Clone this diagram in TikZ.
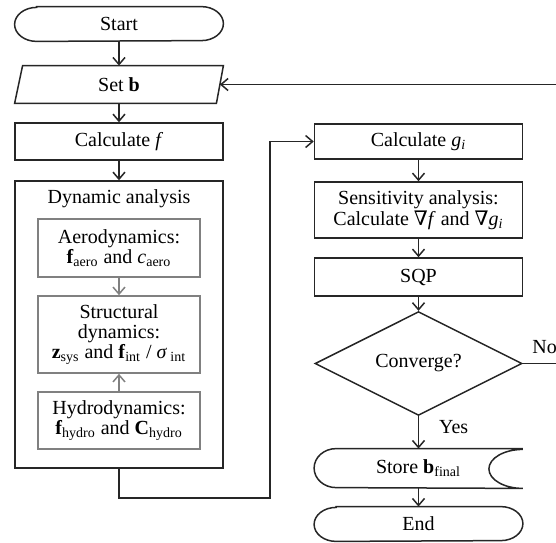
\documentclass[tikz,border=0pt]{standalone}
\usepackage{fontspec}
\setmainfont{Liberation Serif}
\newfontfamily\nablafont{DejaVu Serif}
\usetikzlibrary{arrows.meta,shapes.geometric}

\begin{document}
\begin{tikzpicture}
[x=0.5pt,y=-0.5pt,
  font=\fontsize{10}{10.2}\selectfont,
  boxDecorate/.style={shape=rectangle,draw=black!85,line width=0.75pt,minimum width=104pt,align=center,inner sep=2pt},%
  termDecorate/.style={shape=rectangle,minimum width=104pt,minimum height=17pt,inner sep=0pt},%
  innerDecorate/.style={shape=rectangle,draw=black!50,line width=0.8pt,minimum width=81pt,align=center,inner sep=2pt},%
  decisionDecorate/.style={shape=diamond,draw=black!85,line width=0.75pt,minimum width=103.5pt,minimum height=48.5pt,inner sep=0pt},%
  outlineDecorate/.style={draw=black!85,line width=0.75pt},%
  lineDecorate/.style={-{Straight Barb[length=3.5pt,width=6pt]},draw=black!85,line width=0.75pt},%
  grayLineDecorate/.style={lineDecorate,draw=black!50}]
\clip (0,0) rectangle (556,542);
%% left column
\node (start) at (119,24) [termDecorate] {Start};
\node (setb) at (119,84.5) [termDecorate,minimum height=18.5pt] {Set \textbf{b}};
\node (calcf) at (119,141.5) [boxDecorate,minimum height=18.5pt] {Calculate \textit{f}};
\node (dyn) at (119,324.5) [boxDecorate,minimum height=143.5pt] {};
\node (dyntitle) at (119,199) {Dynamic analysis};
\node (aero) at (119,248) [innerDecorate,minimum height=29pt]
  {Aerodynamics:\\ \textbf{f}\textsubscript{aero} and \textit{c}\textsubscript{aero}};
\node (struct) at (119,334.5) [innerDecorate,minimum height=38.5pt]
  {Structural\\ dynamics:\\ \textbf{z}\textsubscript{sys} and \textbf{f}\textsubscript{int} / \textit{σ}\,\textsubscript{int}};
\node (hydro) at (119,420.5) [innerDecorate,minimum height=28.5pt]
  {Hydrodynamics:\\ \textbf{f}\textsubscript{hydro} and \textbf{C}\textsubscript{hydro}};
%% right column
\node (calcg) at (418.5,141.5) [boxDecorate,minimum height=17.5pt] {Calculate \textit{g\textsubscript{i}}};
\node (sens) at (418.5,210) [boxDecorate,minimum height=28pt]
  {Sensitivity analysis:\\ Calculate {\nablafont\itshape ∇}\textit{f} and {\nablafont\itshape ∇}\textit{g\textsubscript{i}}};
\node (sqp) at (418.5,277) [boxDecorate,minimum height=19pt] {SQP};
\node (conv) at (418.5,363.5) [decisionDecorate] {Converge?};
\node (store) at (418.5,468.5) [termDecorate,minimum height=19.5pt] {Store \textbf{b}\textsubscript{final}};
\node (end) at (418.5,524) [termDecorate] {End};
\node (yes) at (432,433) [anchor=base west] {Yes};
\node (no) at (530,353) [anchor=base west,inner sep=1pt] {No};
%% outlines
\foreach \nodename in {start, end} {
  \draw[outlineDecorate] ([xshift=11pt]\nodename.north west) -- ([xshift=-11pt]\nodename.north east)
    arc[start angle=90,end angle=-90,x radius=11pt,y radius=8.5pt]
    -- ([xshift=11pt]\nodename.south west)
    arc[start angle=270,end angle=90,x radius=11pt,y radius=8.5pt] -- cycle;
}
\draw[outlineDecorate] ([xshift=4pt]setb.north west) -- (setb.north east)
  -- ([xshift=-3.5pt]setb.south east) -- (setb.south west) -- cycle;
\draw[outlineDecorate] (store.north east) -- ([xshift=11pt]store.north west)
  arc[start angle=90,end angle=270,x radius=11pt,y radius=9.75pt] -- (store.south east)
  arc[start angle=-90,end angle=-270,x radius=17pt,y radius=9.75pt];
%% connectors
\path
\foreach \startnode/\endnode in {start/setb, setb/calcf, calcf/dyn, calcg/sens, sens/sqp, sqp/conv, conv/store, store/end} {
  (\startnode) edge[lineDecorate] (\endnode)
};
\draw[grayLineDecorate] (aero) -- (struct);
\draw[grayLineDecorate] (hydro) -- (struct);
\coordinate (detour) at (270,498);
\draw[lineDecorate] (dyn.south) |- (detour) |- (calcg.west);
\coordinate (feedback) at (580,84.5);
\draw[lineDecorate] (conv.east) -| (feedback) -- ([xshift=-1.75pt]setb.east);
\end{tikzpicture}
\end{document}
